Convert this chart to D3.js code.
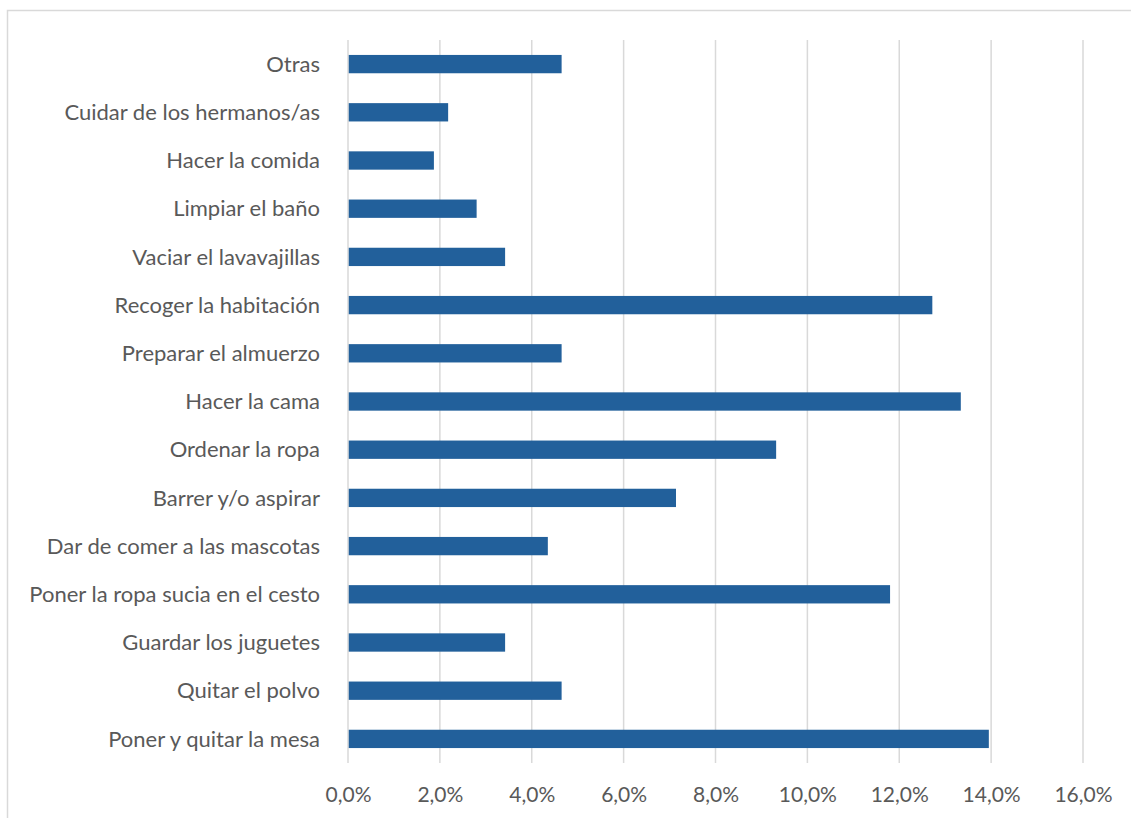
<!DOCTYPE html>
<html>
<head>
<meta charset="utf-8">
<script src="https://cdn.jsdelivr.net/npm/d3@7"></script>
<style>
  html, body { margin: 0; padding: 0; background: #ffffff; }
  svg { display: block; }
  text { font-family: Lato, "Open Sans", sans-serif; fill: #595959; }
</style>
</head>
<body>
<svg id="chart" width="1131" height="818"></svg>
<script>
// Categories (top to bottom as displayed)
const categories = [
  "Otras",
  "Cuidar de los hermanos/as",
  "Hacer la comida",
  "Limpiar el baño",
  "Vaciar el lavavajillas",
  "Recoger la habitación",
  "Preparar el almuerzo",
  "Hacer la cama",
  "Ordenar la ropa",
  "Barrer y/o aspirar",
  "Dar de comer a las mascotas",
  "Poner la ropa sucia en el cesto",
  "Guardar los juguetes",
  "Quitar el polvo",
  "Poner y quitar la mesa"
];
const values = [
  0.0465, 0.0218, 0.0187, 0.0280, 0.0342,
  0.1272, 0.0465, 0.1334, 0.0932, 0.0714,
  0.0435, 0.1180, 0.0342, 0.0465, 0.1395
];
const tickValues = [0, 0.02, 0.04, 0.06, 0.08, 0.10, 0.12, 0.14, 0.16];
const tickLabels = ["0,0%", "2,0%", "4,0%", "6,0%", "8,0%", "10,0%", "12,0%", "14,0%", "16,0%"];

const svg = d3.select("#chart");
const plot = { left: 348, right: 1083, top: 40, bottom: 763 };

// outer border (extends past the right and bottom edges)
svg.append("rect")
  .attr("x", 7.5).attr("y", 10.5)
  .attr("width", 1140).attr("height", 830)
  .attr("fill", "none").attr("stroke", "#d9d9d9").attr("stroke-width", 1.5);

const x = d3.scaleLinear().domain([0, 0.16]).range([plot.left, plot.right]);
const y = d3.scaleBand().domain(categories).range([plot.top, plot.bottom])
  .paddingInner(0.62).paddingOuter(0.31);

// gridlines
svg.append("g").selectAll("line").data(tickValues).join("line")
  .attr("x1", d => x(d)).attr("x2", d => x(d))
  .attr("y1", plot.top).attr("y2", plot.bottom)
  .attr("stroke", "#d9d9d9").attr("stroke-width", 1.5);

// bars
const data = categories.map((c, i) => ({ c, v: values[i] }));
svg.append("g").selectAll("rect").data(data).join("rect")
  .attr("x", x(0) + 0.75)
  .attr("y", d => y(d.c))
  .attr("width", d => x(d.v) - x(0) - 0.75)
  .attr("height", y.bandwidth())
  .attr("fill", "#22609b");

// x axis tick labels
const xAxis = d3.axisBottom(x).tickValues(tickValues)
  .tickFormat((d, i) => tickLabels[i]).tickSize(0).tickPadding(0);
const gx = svg.append("g").attr("transform", `translate(0,${plot.bottom})`).call(xAxis);
gx.select(".domain").remove();
gx.selectAll("text")
  .attr("y", 32).attr("dy", "0.35em")
  .style("font-size", "21px").style("font-family", "Lato, 'Open Sans', sans-serif")
  .attr("fill", "#595959");

// y axis labels
const yAxis = d3.axisLeft(y).tickSize(0).tickPadding(0);
const gy = svg.append("g").attr("transform", `translate(320,0)`).call(yAxis);
gy.select(".domain").remove();
gy.selectAll("text")
  .attr("x", 0).attr("dy", "0.35em")
  .style("font-size", "22px").style("font-family", "Lato, 'Open Sans', sans-serif")
  .attr("fill", "#595959");
</script>
</body>
</html>
